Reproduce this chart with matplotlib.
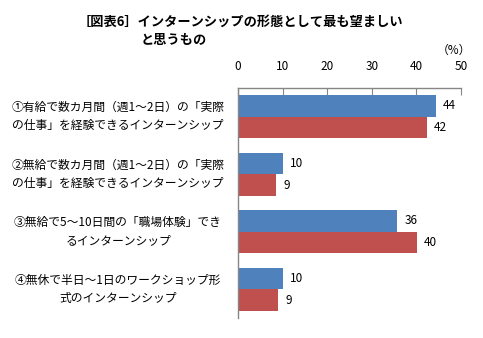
import numpy as np
import matplotlib
matplotlib.use('Agg')
import matplotlib.pyplot as plt
import matplotlib.transforms as mtransforms

plt.rcParams['font.family'] = ['Noto Sans CJK JP', 'DejaVu Sans']

categories = ['①有給で数カ月間（週1～2日）の「実際\nの仕事」を経験できるインターンシップ',
              '②無給で数カ月間（週1～2日）の「実際\nの仕事」を経験できるインターンシップ',
              '③無給で5～10日間の「職場体験」でき\nるインターンシップ',
              '④無休で半日～1日のワークショップ形\n式のインターンシップ']
series_a = [44.4, 10.1, 35.7, 10.1]
series_b = [42.3, 8.5, 40.1, 9.0]
labels_a = ['44', '10', '36', '10']
labels_b = ['42', '9', '40', '9']
xticks = [0, 10, 20, 30, 40, 50]

fig = plt.figure(figsize=(4.83, 3.38), dpi=100)
ax = fig.add_axes([238/483, 1-318/338, 223/483, 230/338])

y = np.arange(len(categories))
h = 0.377
ax.barh(y - h/2, series_a, height=h, color='#4F81BD')
ax.barh(y + h/2, series_b, height=h, color='#C0504D')

for i in range(len(categories)):
    ax.text(series_a[i] + 1.6, y[i] - h/2, labels_a[i], va='center', ha='left', fontsize=8.5)
    ax.text(series_b[i] + 1.6, y[i] + h/2, labels_b[i], va='center', ha='left', fontsize=8.5)

trans = mtransforms.blended_transform_factory(ax.transAxes, ax.transData)
for i, c in enumerate(categories):
    ax.text(-0.538, y[i], c, transform=trans, ha='center', va='center',
            fontsize=8.5, linespacing=1.55)

ax.set_xlim(0, 50)
ax.set_ylim(len(categories) - 0.5, -0.5)
ax.set_xticks(xticks)
ax.xaxis.tick_top()
ax.tick_params(axis='x', direction='in', length=5, color='#868686', pad=11, labelsize=8.5)
ax.set_yticks([])
for s in ['right', 'bottom']:
    ax.spines[s].set_visible(False)
for s in ['top', 'left']:
    ax.spines[s].set_color('#868686')
    ax.spines[s].set_linewidth(1.0)

fig.text(78/483, 1-22/338, '［図表6］インターンシップの形態として最も望ましい',
         fontsize=9.5, fontweight='bold', va='center', ha='left')
fig.text(141/483, 1-40/338, 'と思うもの',
         fontsize=9.5, fontweight='bold', va='center', ha='left')
fig.text(471/483, 1-50/338, '（%）', fontsize=8.5, va='center', ha='right')

fig.savefig('out.png', dpi=100)
